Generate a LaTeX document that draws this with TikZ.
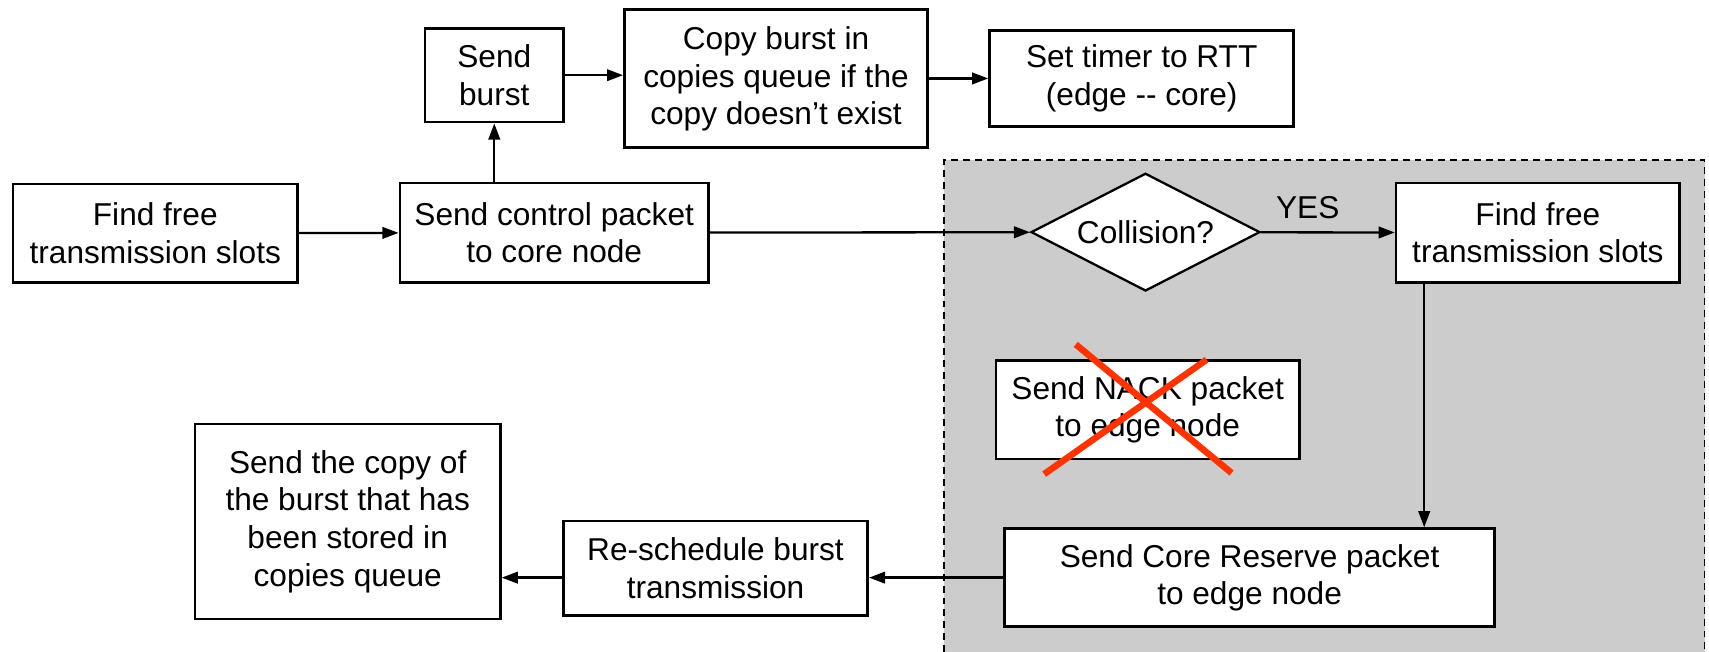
\documentclass[tikz,border=0pt]{standalone}
\usepackage{fontspec}
\setmainfont{Liberation Sans}
\usetikzlibrary{shapes.geometric,arrows.meta}
\definecolor{crossred}{RGB}{255,51,0}
\definecolor{zonegray}{RGB}{204,204,204}
\begin{document}
\begin{tikzpicture}[x=0.01cm,y=-0.01cm,
   every node/.style={font=\fontsize{8.25}{9.8}\selectfont,align=center},
   stepbox/.style={draw,line width=0.7pt,fill=white,inner sep=0pt},
   test/.style={draw,diamond,aspect=1.94,line width=0.6pt,fill=white,inner sep=0pt,
     minimum width=2.1cm,minimum height=1.08cm},
   flow/.style={line width=0.6pt,-{Triangle[length=4.2pt,width=3pt]}}]
   \useasboundingbox (0,0) rectangle (1568,598);
   % core node zone
   \fill [zonegray] (866,147) rectangle (1564,620);
   \draw [line width=0.4pt,dash pattern=on 1.8pt off 1.3pt] (866,620) -- (866,147) -- (1564,147) -- (1564,620);
   \node [stepbox,minimum width=2.61cm,minimum height=0.90cm] (slots) at (142.5,214) {Find free\\transmission slots};
   \node [stepbox,minimum width=2.83cm,minimum height=0.91cm] (control) at (508.5,213.5) {Send control packet\\to core node};
   \node [stepbox,minimum width=1.27cm,minimum height=0.86cm] (burst) at (453.5,69) {Send\\burst};
   \node [stepbox,minimum width=2.78cm,minimum height=1.26cm,text depth=0.05cm] (copy) at (712,72) {Copy burst in\\copies queue if the\\copy doesn’t exist};
   \node [stepbox,minimum width=2.79cm,minimum height=0.88cm] (timer) at (1047.5,72) {Set timer to RTT\\(edge -{}- core)};
   \node [test] (collision) at (1051,213) {Collision?};
   \node [stepbox,minimum width=2.60cm,minimum height=0.91cm] (freeslots) at (1411,213.5) {Find free\\transmission slots};
   \node [stepbox,minimum width=2.78cm,minimum height=0.90cm] (nack) at (1053,376) {Send NACK packet\\to edge node};
   \node [stepbox,minimum width=4.49cm,minimum height=0.90cm] (reserve) at (1146.5,530) {Send Core Reserve packet\\to edge node};
   \node [stepbox,minimum width=2.79cm,minimum height=0.87cm] (reschedule) at (656.5,521.5) {Re-schedule burst\\transmission};
   \node [stepbox,minimum width=2.80cm,minimum height=1.79cm] (sendcopy) at (319,478.5) {Send the copy of\\the burst that has\\been stored in\\copies queue};
   \draw [flow] (slots) -- (control);
   \draw [flow] (burst.south |- control.north) -- (burst);
   \draw [flow] (burst.east) -- (burst.east -| copy.west);
   \draw [flow] (copy.east) -- (copy.east -| timer.west);
   \draw [flow] (control) -- (collision);
   \draw [flow] (collision) -- node [above,pos=0.35] {YES} (freeslots);
   \coordinate (down) at ([xshift=0.27cm]freeslots.south west);
   \draw [flow] (down) -- (down |- reserve.north);
   \draw [flow] (reserve.west) -- (reserve.west -| reschedule.east);
   \draw [flow] (reschedule.west |- reserve.west) -- (sendcopy.east |- reserve.west);
   % NACK is crossed out
   \draw [crossred,line width=1.7pt] (987,316) -- (1130,434);
   \draw [crossred,line width=1.7pt] (1107,330) -- (958,435);
\end{tikzpicture}
\end{document}
